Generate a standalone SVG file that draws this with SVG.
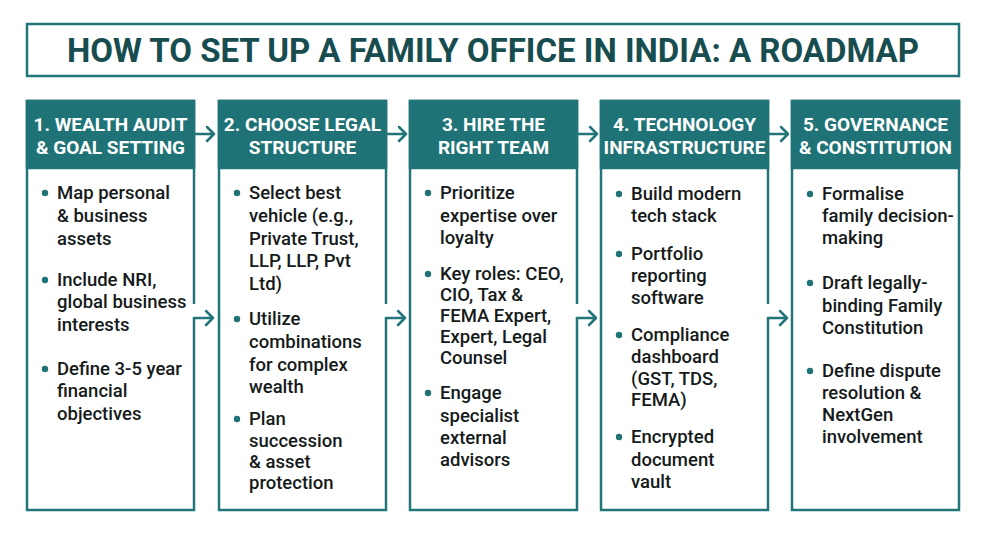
<svg xmlns="http://www.w3.org/2000/svg" width="986" height="538" viewBox="0 0 986 538">
<defs>
<style>
.title{font-family:Roboto,"Liberation Sans",sans-serif;font-weight:700;font-size:33px;fill:#184d50;text-anchor:middle}
.hdr{font-family:Roboto,"Liberation Sans",sans-serif;font-weight:700;font-size:19px;fill:#ffffff;text-anchor:middle}
.body{font-family:Roboto,"Liberation Sans",sans-serif;font-weight:500;font-size:18.5px;fill:#151a1a}
.box{fill:#ffffff;stroke:#217579;stroke-width:2.5}
.head{fill:#1f7377;stroke:#217579;stroke-width:2.5}
.dot{fill:#1f7377}
.gap{fill:#ffffff}
.arr{fill:none;stroke:#217579;stroke-width:2.5;stroke-linecap:round;stroke-linejoin:round}
</style>
</defs>
<rect width="986" height="538" fill="#ffffff"/>
<g id="title">
<rect x="27" y="24" width="932" height="52" fill="#ffffff" stroke="#217579" stroke-width="2.5"/>
<text class="title" x="493" y="62">HOW TO SET UP A FAMILY OFFICE IN INDIA: A ROADMAP</text>
</g>

<g id="step1">
<rect class="box" x="27" y="101" width="167" height="409"/>
<rect class="head" x="27" y="101" width="167" height="67"/>
<rect class="gap" x="190" y="304" width="8" height="13"/>
<text class="hdr" x="110.5" y="131">1. WEALTH AUDIT</text>
<text class="hdr" x="110.5" y="154">&amp; GOAL SETTING</text>
<circle class="dot" cx="45" cy="193" r="3.2"/><circle class="dot" cx="45" cy="280" r="3.2"/><circle class="dot" cx="45" cy="369" r="3.2"/>
<text class="body" x="57" y="199">Map personal</text>
<text class="body" x="57" y="222">&amp; business</text>
<text class="body" x="57" y="245">assets</text>
<text class="body" x="57" y="286">Include NRI,</text>
<text class="body" x="57" y="308">global business</text>
<text class="body" x="57" y="331">interests</text>
<text class="body" x="57" y="375">Define 3-5 year</text>
<text class="body" x="57" y="397">financial</text>
<text class="body" x="57" y="420">objectives</text>
</g>

<g id="step2">
<rect class="box" x="219" y="101" width="167" height="409"/>
<rect class="head" x="219" y="101" width="167" height="67"/>
<rect class="gap" x="382" y="304" width="8" height="13"/>
<text class="hdr" x="302.5" y="131">2. CHOOSE LEGAL</text>
<text class="hdr" x="302.5" y="154">STRUCTURE</text>
<circle class="dot" cx="237" cy="193" r="3.2"/><circle class="dot" cx="237" cy="319" r="3.2"/><circle class="dot" cx="237" cy="419" r="3.2"/>
<text class="body" x="249" y="199">Select best</text>
<text class="body" x="249" y="222">vehicle (e.g.,</text>
<text class="body" x="249" y="245">Private Trust,</text>
<text class="body" x="249" y="267">LLP, LLP, Pvt</text>
<text class="body" x="249" y="290">Ltd)</text>
<text class="body" x="249" y="325">Utilize</text>
<text class="body" x="249" y="348">combinations</text>
<text class="body" x="249" y="371">for complex</text>
<text class="body" x="249" y="393">wealth</text>
<text class="body" x="249" y="425">Plan</text>
<text class="body" x="249" y="447">succession</text>
<text class="body" x="249" y="468">&amp; asset</text>
<text class="body" x="249" y="489">protection</text>
</g>

<g id="step3">
<rect class="box" x="410" y="101" width="167" height="409"/>
<rect class="head" x="410" y="101" width="167" height="67"/>
<rect class="gap" x="573" y="304" width="8" height="13"/>
<text class="hdr" x="493.5" y="131">3. HIRE THE</text>
<text class="hdr" x="493.5" y="154">RIGHT TEAM</text>
<circle class="dot" cx="428" cy="193" r="3.2"/><circle class="dot" cx="428" cy="274" r="3.2"/><circle class="dot" cx="428" cy="393" r="3.2"/>
<text class="body" x="440" y="199">Prioritize</text>
<text class="body" x="440" y="222">expertise over</text>
<text class="body" x="440" y="244">loyalty</text>
<text class="body" x="440" y="280">Key roles: CEO,</text>
<text class="body" x="440" y="301">CIO, Tax &amp;</text>
<text class="body" x="440" y="322">FEMA Expert,</text>
<text class="body" x="440" y="343">Expert, Legal</text>
<text class="body" x="440" y="364">Counsel</text>
<text class="body" x="440" y="399">Engage</text>
<text class="body" x="440" y="422">specialist</text>
<text class="body" x="440" y="444">external</text>
<text class="body" x="440" y="466">advisors</text>
</g>

<g id="step4">
<rect class="box" x="601" y="101" width="167" height="409"/>
<rect class="head" x="601" y="101" width="167" height="67"/>
<rect class="gap" x="764" y="304" width="8" height="13"/>
<text class="hdr" x="684.5" y="131">4. TECHNOLOGY</text>
<text class="hdr" x="684.5" y="154">INFRASTRUCTURE</text>
<circle class="dot" cx="619" cy="194" r="3.2"/><circle class="dot" cx="619" cy="254" r="3.2"/><circle class="dot" cx="619" cy="335" r="3.2"/><circle class="dot" cx="619" cy="437" r="3.2"/>
<text class="body" x="631" y="200">Build modern</text>
<text class="body" x="631" y="222">tech stack</text>
<text class="body" x="631" y="260">Portfolio</text>
<text class="body" x="631" y="282">reporting</text>
<text class="body" x="631" y="304">software</text>
<text class="body" x="631" y="341">Compliance</text>
<text class="body" x="631" y="363">dashboard</text>
<text class="body" x="631" y="385">(GST, TDS,</text>
<text class="body" x="631" y="406">FEMA)</text>
<text class="body" x="631" y="443">Encrypted</text>
<text class="body" x="631" y="466">document</text>
<text class="body" x="631" y="488">vault</text>
</g>

<g id="step5">
<rect class="box" x="792" y="101" width="167" height="409"/>
<rect class="head" x="792" y="101" width="167" height="67"/>
<text class="hdr" x="875.5" y="131">5. GOVERNANCE</text>
<text class="hdr" x="875.5" y="154">&amp; CONSTITUTION</text>
<circle class="dot" cx="810" cy="194" r="3.2"/><circle class="dot" cx="810" cy="283" r="3.2"/><circle class="dot" cx="810" cy="371" r="3.2"/>
<text class="body" x="822" y="200">Formalise</text>
<text class="body" x="822" y="222">family decision-</text>
<text class="body" x="822" y="244">making</text>
<text class="body" x="822" y="289">Draft legally-</text>
<text class="body" x="822" y="312">binding Family</text>
<text class="body" x="822" y="334">Constitution</text>
<text class="body" x="822" y="377">Define dispute</text>
<text class="body" x="822" y="399">resolution &amp;</text>
<text class="body" x="822" y="421">NextGen</text>
<text class="body" x="822" y="443">involvement</text>
</g>

<g id="connectors">
<path class="arr" d="M195 134 H214 M207 127 L214 134 L207 141"/>
<path class="arr" d="M387 134 H406 M399 127 L406 134 L399 141"/>
<path class="arr" d="M578 134 H597 M590 127 L597 134 L590 141"/>
<path class="arr" d="M769 134 H788 M781 127 L788 134 L781 141"/>
<path class="arr" d="M194 318 H213 M206 311 L213 318 L206 325"/>
<path class="arr" d="M386 318 H405 M398 311 L405 318 L398 325"/>
<path class="arr" d="M577 318 H596 M589 311 L596 318 L589 325"/>
<path class="arr" d="M768 318 H787 M780 311 L787 318 L780 325"/>
</g>
</svg>
